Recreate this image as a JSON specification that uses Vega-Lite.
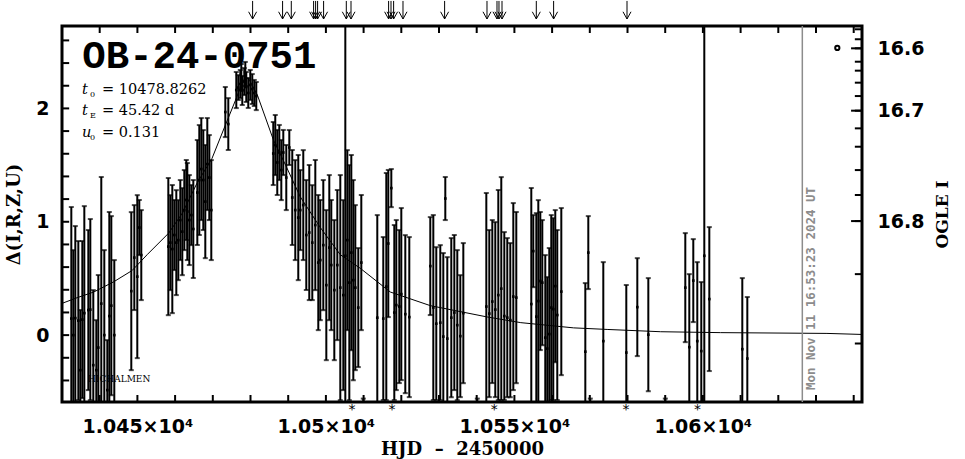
{
  "$schema": "https://vega.github.io/schema/vega-lite/v6.json",
  "width": 800,
  "height": 376,
  "autosize": {"type": "none"},
  "padding": {"left": 62, "top": 26, "right": 103, "bottom": 57},
  "background": "white",
  "config": {
    "font": "DejaVu Sans",
    "view": {"stroke": "black", "strokeWidth": 3, "fill": null},
    "axis": {"domain": false, "grid": false, "ticks": false,
      "labelColor": "black", "titleColor": "black", "labelFont": "DejaVu Sans", "labelFontWeight": "bold",
      "labelFontSize": 19, "titleFont": "DejaVu Serif", "titleFontWeight": "bold", "titleFontSize": 18}
  },
  "datasets": {
    "pts": [
      {"t":10432.47,"d":0.146,"err":0.984},{"t":10433.00,"d":0.0,"err":0.750},{"t":10433.53,"d":0.150,"err":0.812},{"t":10434.33,"d":0.128,"err":0.702},{"t":10434.86,"d":-0.309,"err":0.530},{"t":10435.39,"d":0.137,"err":0.693},{"t":10435.92,"d":0.194,"err":0.944},{"t":10436.98,"d":0.221,"err":0.706},{"t":10437.51,"d":0.225,"err":0.799},{"t":10438.30,"d":-0.265,"err":0.662},{"t":10439.10,"d":-0.309,"err":0.441},{"t":10439.63,"d":-0.110,"err":0.640},{"t":10440.42,"d":0.278,"err":1.117},{"t":10441.22,"d":0.0,"err":0.750},{"t":10442.02,"d":-0.485,"err":0.441},{"t":10442.55,"d":0.168,"err":0.918},{"t":10443.08,"d":0.260,"err":0.790},{"t":10443.87,"d":0.0,"err":0.662},
      {"t":10448.38,"d":0.388,"err":0.697},{"t":10449.18,"d":0.684,"err":0.463},{"t":10449.97,"d":0.516,"err":0.719},{"t":10450.50,"d":0.949,"err":0.243},{"t":10451.03,"d":0.706,"err":0.397},
      {"t":10458.20,"d":0.781,"err":0.605},{"t":10458.73,"d":0.816,"err":0.419},{"t":10459.26,"d":0.759,"err":0.565},{"t":10459.79,"d":0.883,"err":0.309},{"t":10460.32,"d":0.816,"err":0.463},{"t":10460.85,"d":0.838,"err":0.353},{"t":10461.38,"d":1.015,"err":0.353},{"t":10461.91,"d":0.913,"err":0.384},{"t":10462.44,"d":1.103,"err":0.353},{"t":10462.97,"d":1.192,"err":0.353},{"t":10463.24,"d":1.090,"err":0.428},{"t":10463.77,"d":1.015,"err":0.397},{"t":10464.30,"d":1.059,"err":0.265},{"t":10464.83,"d":0.936,"err":0.432},
      {"t":10465.89,"d":1.258,"err":0.463},{"t":10466.42,"d":1.368,"err":0.485},{"t":10466.95,"d":1.465,"err":0.450},{"t":10467.48,"d":1.368,"err":0.441},{"t":10468.01,"d":1.178,"err":0.499},{"t":10468.54,"d":1.509,"err":0.406},{"t":10469.07,"d":1.390,"err":0.375},{"t":10469.60,"d":1.103,"err":0.441},
      {"t":10473.32,"d":1.968,"err":0.221},{"t":10474.11,"d":1.862,"err":0.229},
      {"t":10476.23,"d":2.162,"err":0.159},{"t":10476.76,"d":2.184,"err":0.110},{"t":10477.29,"d":2.215,"err":0.124},{"t":10477.56,"d":2.277,"err":0.115},{"t":10477.82,"d":2.158,"err":0.128},{"t":10478.35,"d":2.237,"err":0.119},{"t":10478.62,"d":2.304,"err":0.106},{"t":10478.88,"d":2.189,"err":0.132},{"t":10479.41,"d":2.136,"err":0.132},{"t":10479.94,"d":2.207,"err":0.132},{"t":10480.47,"d":2.171,"err":0.132},{"t":10481.00,"d":2.136,"err":0.115},{"t":10481.53,"d":2.109,"err":0.124},
      {"t":10486.04,"d":1.602,"err":0.278},{"t":10486.57,"d":1.677,"err":0.265},{"t":10487.10,"d":1.523,"err":0.287},{"t":10487.64,"d":1.611,"err":0.243},{"t":10488.17,"d":1.456,"err":0.265},{"t":10488.70,"d":1.611,"err":0.199},{"t":10489.49,"d":1.390,"err":0.287},{"t":10490.29,"d":1.655,"err":0.154},
      {"t":10491.08,"d":1.214,"err":0.419},{"t":10491.88,"d":1.103,"err":0.441},{"t":10492.67,"d":1.037,"err":0.552},{"t":10493.20,"d":1.103,"err":0.353},{"t":10494.00,"d":1.147,"err":0.485},{"t":10494.80,"d":0.883,"err":0.485},{"t":10495.59,"d":0.905,"err":0.596},{"t":10496.39,"d":0.816,"err":0.507},{"t":10497.19,"d":0.971,"err":0.574},{"t":10497.98,"d":0.640,"err":0.596},{"t":10498.51,"d":0.662,"err":0.530},{"t":10499.31,"d":0.794,"err":0.574},{"t":10500.11,"d":0.441,"err":0.662},{"t":10500.90,"d":0.772,"err":0.640},{"t":10501.43,"d":0.618,"err":0.574},{"t":10502.23,"d":0.397,"err":0.618},{"t":10503.03,"d":0.618,"err":0.662},{"t":10503.82,"d":0.419,"err":0.993},{"t":10504.62,"d":0.353,"err":0.838},
      {"t":10505.15,"d":0.7,"err":5},
      {"t":10505.68,"d":0.838,"err":0.794},{"t":10506.21,"d":0.463,"err":1.037},{"t":10506.74,"d":0.728,"err":0.861},{"t":10507.27,"d":0.485,"err":0.883},{"t":10507.80,"d":0.419,"err":0.728},{"t":10508.59,"d":0.243,"err":0.525},{"t":10509.39,"d":0.640,"err":0.596},{"t":10509.92,"d":-0.9,"err":0.34},
      {"t":10513.63,"d":0.154,"err":0.905},{"t":10515.22,"d":0.146,"err":0.719},{"t":10516.02,"d":0.428,"err":1.002},{"t":10516.55,"d":0.808,"err":0.649},{"t":10517.35,"d":1.297,"err":0.168},{"t":10518.14,"d":0.199,"err":0.772},{"t":10518.67,"d":0.265,"err":0.750},{"t":10519.47,"d":0.252,"err":0.675},{"t":10520.00,"d":0.362,"err":0.759},{"t":10521.06,"d":0.185,"err":0.697},{"t":10522.12,"d":0.159,"err":0.706},
      {"t":10527.69,"d":0.609,"err":0.432},{"t":10528.49,"d":0.243,"err":0.816},{"t":10529.28,"d":0.101,"err":0.675},{"t":10530.34,"d":0.110,"err":0.684},{"t":10531.14,"d":-0.013,"err":0.737},{"t":10531.67,"d":1.205,"err":0.190},{"t":10532.20,"d":-0.031,"err":0.719},{"t":10533.26,"d":0.154,"err":0.702},{"t":10534.06,"d":0.199,"err":0.684},{"t":10534.85,"d":0.088,"err":0.662},{"t":10535.65,"d":-0.009,"err":0.538},{"t":10536.45,"d":0.194,"err":0.618},{"t":10540.16,"d":-0.9,"err":0.34},
      {"t":10542.55,"d":0.252,"err":1.002},{"t":10543.34,"d":0.190,"err":0.737},{"t":10544.14,"d":0.296,"err":0.719},{"t":10544.93,"d":0.225,"err":0.772},{"t":10545.73,"d":0.353,"err":0.927},{"t":10546.52,"d":0.410,"err":0.984},{"t":10547.32,"d":0.168,"err":0.741},{"t":10548.11,"d":0.154,"err":0.702},{"t":10548.91,"d":0.132,"err":0.680},{"t":10549.71,"d":0.340,"err":0.825},{"t":10550.50,"d":0.331,"err":0.755},
      {"t":10554.48,"d":0.274,"err":1.024},{"t":10555.01,"d":0.741,"err":0.318},{"t":10555.81,"d":0.163,"err":0.913},{"t":10556.34,"d":0.300,"err":0.891},{"t":10556.87,"d":0.477,"err":0.609},{"t":10557.40,"d":0.463,"err":0.552},{"t":10558.19,"d":-0.022,"err":0.728},{"t":10558.72,"d":-0.119,"err":0.631},{"t":10559.25,"d":0.009,"err":0.759},{"t":10559.78,"d":0.243,"err":0.816},{"t":10560.31,"d":0.229,"err":0.803},{"t":10560.84,"d":0.432,"err":0.671},{"t":10561.37,"d":0.177,"err":0.750},{"t":10562.44,"d":0.384,"err":0.737},
      {"t":10568.81,"d":-0.146,"err":0.605},{"t":10569.60,"d":0.728,"err":0.322},{"t":10570.13,"d":-0.9,"err":0.34},{"t":10573.58,"d":-0.053,"err":0.697},{"t":10579.68,"d":-0.154,"err":0.596},{"t":10582.60,"d":0.247,"err":0.432},{"t":10585.52,"d":0.004,"err":0.499},{"t":10590.03,"d":-0.9,"err":0.34},
      {"t":10595.33,"d":0.419,"err":0.481},{"t":10596.39,"d":-0.106,"err":0.644},{"t":10597.45,"d":0.481,"err":0.366},{"t":10598.51,"d":-0.053,"err":0.697},{"t":10599.57,"d":-0.141,"err":0.609},{"t":10600.37,"d":0.7,"err":5},{"t":10601.70,"d":0.318,"err":0.635},
      {"t":10610.45,"d":-0.124,"err":0.627},{"t":10611.78,"d":-0.207,"err":0.543}
    ],
    "curve": [
      {"t":10430,"d":0.28},{"t":10434,"d":0.33},{"t":10438.4,"d":0.38},{"t":10443.7,"d":0.47},{"t":10448.6,"d":0.57},{"t":10452.6,"d":0.71},{"t":10458.3,"d":0.90},{"t":10462,"d":1.08},{"t":10465.8,"d":1.34},{"t":10469.8,"d":1.56},{"t":10473.3,"d":1.85},{"t":10476.0,"d":2.07},{"t":10478.1,"d":2.25},{"t":10479.4,"d":2.27},{"t":10481.8,"d":2.12},{"t":10486.1,"d":1.72},{"t":10489.3,"d":1.50},{"t":10493.2,"d":1.22},{"t":10498.5,"d":0.95},{"t":10503.8,"d":0.71},{"t":10509.1,"d":0.59},{"t":10517.1,"d":0.38},{"t":10527.7,"d":0.26},{"t":10542.8,"d":0.16},{"t":10551.7,"d":0.11},{"t":10565.7,"d":0.064},{"t":10574.6,"d":0.05},{"t":10588.8,"d":0.03},{"t":10604.7,"d":0.022},{"t":10632.9,"d":0.015},{"t":10642.2,"d":0.006}
    ],
    "arrows": [
      {"t":10480.56},{"t":10488.51},{"t":10490.82},{"t":10496.74},{"t":10497.27},{"t":10497.80},{"t":10499.39},{"t":10505.41},{"t":10506.66},{"t":10516.63},{"t":10517.27},{"t":10517.96},{"t":10520.45},{"t":10531.49},{"t":10542.73},{"t":10545.38},{"t":10545.91},{"t":10546.71},{"t":10555.81},{"t":10560.40},{"t":10579.87}
    ],
    "stars": [
      {"t":10506.92},{"t":10517.53},{"t":10544.67},{"t":10579.60},{"t":10598.59}
    ],
    "params": [
      {"v":"t","s":"0","r":"=  10478.8262","y":2.131},
      {"v":"t","s":"E","r":"=  45.42 d","y":1.941},
      {"v":"u","s":"0","r":"=  0.131","y":1.750}
    ],
    "xticks": [
      {"t":10430},{"t":10440},{"t":10450},{"t":10460},{"t":10470},{"t":10480},{"t":10490},{"t":10500},{"t":10510},{"t":10520},{"t":10530},{"t":10540},{"t":10550},{"t":10560},{"t":10570},{"t":10580},{"t":10590},{"t":10600},{"t":10610},{"t":10620},{"t":10630},{"t":10640}
    ],
    "lticks": [
      {"v":-0.4},{"v":-0.2},{"v":0},{"v":0.2},{"v":0.4},{"v":0.6},{"v":0.8},{"v":1},{"v":1.2},{"v":1.4},{"v":1.6},{"v":1.8},{"v":2},{"v":2.2},{"v":2.4},{"v":2.6}
    ],
    "rticks": [
      {"v":2.698},{"v":2.610},{"v":2.530},{"v":2.412},{"v":2.333},{"v":2.227},{"v":2.109},{"v":1.980},{"v":1.824},{"v":1.662},{"v":1.456},{"v":1.236},{"v":1.006},{"v":0.538},{"v":-0.074}
    ],
    "rmajor": [
      {"v":2.530},{"v":1.980},{"v":1.006}
    ]
  },
  "layer": [
    {
      "data": {"name": "curve"},
      "mark": {"type": "line", "color": "black", "strokeWidth": 1, "clip": true},
      "encoding": {
        "x": {"field": "t", "type": "quantitative", "scale": {"domain": [10430, 10642.2], "nice": false, "zero": false},
          "axis": {"orient": "bottom", "values": [10450, 10500, 10550, 10600],
            "labelExpr": "format(datum.value/10000, '.4~f') + '×10⁴'",
            "labelPadding": 15, "title": "HJD\u00a0\u00a0–\u00a0\u00a02450000", "titlePadding": 4, "titleFontSize": 18, "labelFlush": false, "labelOverlap": false}},
        "y": {"field": "d", "type": "quantitative", "scale": {"domain": [-0.59, 2.727], "nice": false, "zero": false},
          "axis": {"orient": "left", "values": [0, 1, 2],
            "labelExpr": "format(datum.value, 'd')",
            "labelPadding": 13, "title": "Δ(I,R,Z,U)", "titlePadding": 12, "titleFontSize": 18, "labelOverlap": false}}
      }
    },
    {
      "data": {"name": "xticks"},
      "mark": {"type": "rule", "color": "black", "strokeWidth": 2},
      "encoding": {
        "x": {"field": "t", "type": "quantitative", "scale": {"domain": [10430, 10642.2], "nice": false, "zero": false}, "axis": null},
        "y": {"datum": -0.59, "type": "quantitative", "scale": {"domain": [-0.59, 2.727], "nice": false, "zero": false}, "axis": null},
        "y2": {"datum": -0.528}
      }
    },
    {
      "data": {"name": "xticks"},
      "mark": {"type": "rule", "color": "black", "strokeWidth": 2},
      "encoding": {
        "x": {"field": "t", "type": "quantitative", "scale": {"domain": [10430, 10642.2], "nice": false, "zero": false}, "axis": null},
        "y": {"datum": 2.727, "type": "quantitative", "scale": {"domain": [-0.59, 2.727], "nice": false, "zero": false}, "axis": null},
        "y2": {"datum": 2.665}
      }
    },
    {
      "data": {"name": "lticks"},
      "mark": {"type": "rule", "color": "black", "strokeWidth": 2},
      "encoding": {
        "y": {"field": "v", "type": "quantitative", "scale": {"domain": [-0.59, 2.727], "nice": false, "zero": false}, "axis": null},
        "x": {"datum": 10430, "type": "quantitative", "scale": {"domain": [10430, 10642.2], "nice": false, "zero": false}, "axis": null},
        "x2": {"datum": 10431.9}
      }
    },
    {
      "data": {"name": "rticks"},
      "mark": {"type": "rule", "color": "black", "strokeWidth": 2},
      "encoding": {
        "y": {"field": "v", "type": "quantitative", "scale": {"domain": [-0.59, 2.727], "nice": false, "zero": false}, "axis": null},
        "x": {"datum": 10642.2, "type": "quantitative", "scale": {"domain": [10430, 10642.2], "nice": false, "zero": false}, "axis": null},
        "x2": {"datum": 10640.3}
      }
    },
    {
      "data": {"name": "rmajor"},
      "mark": {"type": "rule", "color": "black", "strokeWidth": 2},
      "encoding": {
        "y": {"field": "v", "type": "quantitative", "scale": {"domain": [-0.59, 2.727], "nice": false, "zero": false}, "axis": null},
        "x": {"datum": 10642.2, "type": "quantitative", "scale": {"domain": [10430, 10642.2], "nice": false, "zero": false}, "axis": null},
        "x2": {"datum": 10639.3}
      }
    },
    {
      "data": {"name": "pts"},
      "mark": {"type": "errorbar", "color": "black", "thickness": 2, "clip": true, "ticks": {"size": 5, "thickness": 2, "color": "black"}},
      "encoding": {
        "x": {"field": "t", "type": "quantitative", "scale": {"domain": [10430, 10642.2], "nice": false, "zero": false}, "axis": null},
        "y": {"field": "d", "type": "quantitative", "scale": {"domain": [-0.59, 2.727], "nice": false, "zero": false}, "axis": null},
        "yError": {"field": "err"}
      }
    },
    {
      "data": {"name": "pts"},
      "mark": {"type": "point", "shape": "square", "filled": true, "color": "black", "size": 7, "opacity": 1, "clip": true},
      "encoding": {
        "x": {"field": "t", "type": "quantitative", "scale": {"domain": [10430, 10642.2], "nice": false, "zero": false}, "axis": null},
        "y": {"field": "d", "type": "quantitative", "scale": {"domain": [-0.59, 2.727], "nice": false, "zero": false}, "axis": null}
      }
    },
    {
      "data": {"values": [{"t": 10626.37}]},
      "mark": {"type": "rule", "color": "#8c8c8c", "strokeWidth": 1.5},
      "encoding": {
        "x": {"field": "t", "type": "quantitative", "scale": {"domain": [10430, 10642.2], "nice": false, "zero": false}, "axis": null}
      }
    },
    {
      "data": {"values": [{"label": "Mon Nov 11 16:53:23 2024 UT"}]},
      "mark": {"type": "text", "angle": 270, "align": "left", "baseline": "middle", "font": "DejaVu Sans Mono", "fontWeight": "bold", "fontSize": 12.5, "fill": "#8c8c8c"},
      "encoding": {
        "x": {"datum": 10628.6, "type": "quantitative", "scale": {"domain": [10430, 10642.2], "nice": false, "zero": false}, "axis": null},
        "y": {"datum": -0.485, "type": "quantitative", "scale": {"domain": [-0.59, 2.727], "nice": false, "zero": false}, "axis": null},
        "text": {"field": "label"}
      }
    },
    {
      "data": {"name": "arrows"},
      "mark": {"type": "rule", "color": "black", "strokeWidth": 1},
      "encoding": {
        "x": {"field": "t", "type": "quantitative", "scale": {"domain": [10430, 10642.2], "nice": false, "zero": false}, "axis": null},
        "y": {"datum": 2.948, "type": "quantitative", "scale": {"domain": [-0.59, 2.727], "nice": false, "zero": false}, "axis": null},
        "y2": {"datum": 2.789}
      }
    },
    {
      "data": {"name": "arrows"},
      "mark": {"type": "point", "shape": "M-1,-1.8L0,0L1,-1.8", "filled": false, "color": "black", "strokeWidth": 1, "size": 64, "opacity": 1},
      "encoding": {
        "x": {"field": "t", "type": "quantitative", "scale": {"domain": [10430, 10642.2], "nice": false, "zero": false}, "axis": null},
        "y": {"datum": 2.789, "type": "quantitative", "scale": {"domain": [-0.59, 2.727], "nice": false, "zero": false}, "axis": null}
      }
    },
    {
      "data": {"name": "stars"},
      "mark": {"type": "text", "text": "*", "font": "DejaVu Sans", "fontSize": 14, "baseline": "top", "align": "center", "fill": "black"},
      "encoding": {
        "x": {"field": "t", "type": "quantitative", "scale": {"domain": [10430, 10642.2], "nice": false, "zero": false}, "axis": null},
        "y": {"datum": -0.6, "type": "quantitative", "scale": {"domain": [-0.59, 2.727], "nice": false, "zero": false}, "axis": null}
      }
    },
    {
      "data": {"values": [{"label": "OB-24-0751"}]},
      "mark": {"type": "text", "align": "left", "baseline": "alphabetic", "font": "Liberation Mono", "fontWeight": "bold", "fontSize": 39, "fill": "black"},
      "encoding": {
        "x": {"datum": 10435.39, "type": "quantitative", "scale": {"domain": [10430, 10642.2], "nice": false, "zero": false}, "axis": null},
        "y": {"datum": 2.357, "type": "quantitative", "scale": {"domain": [-0.59, 2.727], "nice": false, "zero": false}, "axis": null},
        "text": {"field": "label"}
      }
    },
    {
      "data": {"name": "params"},
      "mark": {"type": "text", "align": "left", "baseline": "alphabetic", "font": "DejaVu Serif", "fontStyle": "italic", "fontSize": 14.5, "fill": "black"},
      "encoding": {
        "x": {"datum": 10435.31, "type": "quantitative", "scale": {"domain": [10430, 10642.2], "nice": false, "zero": false}, "axis": null},
        "y": {"field": "y", "type": "quantitative", "scale": {"domain": [-0.59, 2.727], "nice": false, "zero": false}, "axis": null},
        "text": {"field": "v"}
      }
    },
    {
      "data": {"name": "params"},
      "mark": {"type": "text", "align": "left", "baseline": "alphabetic", "font": "DejaVu Serif", "fontSize": 8, "dx": 8, "dy": 3, "fill": "black"},
      "encoding": {
        "x": {"datum": 10435.31, "type": "quantitative", "scale": {"domain": [10430, 10642.2], "nice": false, "zero": false}, "axis": null},
        "y": {"field": "y", "type": "quantitative", "scale": {"domain": [-0.59, 2.727], "nice": false, "zero": false}, "axis": null},
        "text": {"field": "s"}
      }
    },
    {
      "data": {"name": "params"},
      "mark": {"type": "text", "align": "left", "baseline": "alphabetic", "font": "DejaVu Serif", "fontSize": 14.5, "dx": 20, "fill": "black"},
      "encoding": {
        "x": {"datum": 10435.31, "type": "quantitative", "scale": {"domain": [10430, 10642.2], "nice": false, "zero": false}, "axis": null},
        "y": {"field": "y", "type": "quantitative", "scale": {"domain": [-0.59, 2.727], "nice": false, "zero": false}, "axis": null},
        "text": {"field": "r"}
      }
    },
    {
      "data": {"values": [{"label": "HICHALMEN"}]},
      "mark": {"type": "text", "align": "left", "baseline": "middle", "font": "DejaVu Serif", "fontSize": 9, "fill": "black"},
      "encoding": {
        "x": {"datum": 10436.9, "type": "quantitative", "scale": {"domain": [10430, 10642.2], "nice": false, "zero": false}, "axis": null},
        "y": {"datum": -0.388, "type": "quantitative", "scale": {"domain": [-0.59, 2.727], "nice": false, "zero": false}, "axis": null},
        "text": {"field": "label"}
      }
    },
    {
      "data": {"values": [{"t": 10635.65, "d": 2.533}]},
      "mark": {"type": "point", "shape": "circle", "filled": false, "color": "black", "strokeWidth": 2, "size": 18, "opacity": 1},
      "encoding": {
        "x": {"field": "t", "type": "quantitative", "scale": {"domain": [10430, 10642.2], "nice": false, "zero": false}, "axis": null},
        "y": {"field": "d", "type": "quantitative", "scale": {"domain": [-0.59, 2.727], "nice": false, "zero": false},
          "axis": {"orient": "right", "values": [2.530, 1.980, 1.006],
            "labelExpr": "datum.value == 2.53 ? '16.6' : datum.value == 1.98 ? '16.7' : '16.8'",
            "labelPadding": 15, "labelOverlap": false, "title": "OGLE I", "titleAngle": 270, "titlePadding": 28, "titleFontSize": 17}}
      }
    }
  ],
  "resolve": {"scale": {"y": "independent"}, "axis": {"x": "independent", "y": "independent"}}
}
